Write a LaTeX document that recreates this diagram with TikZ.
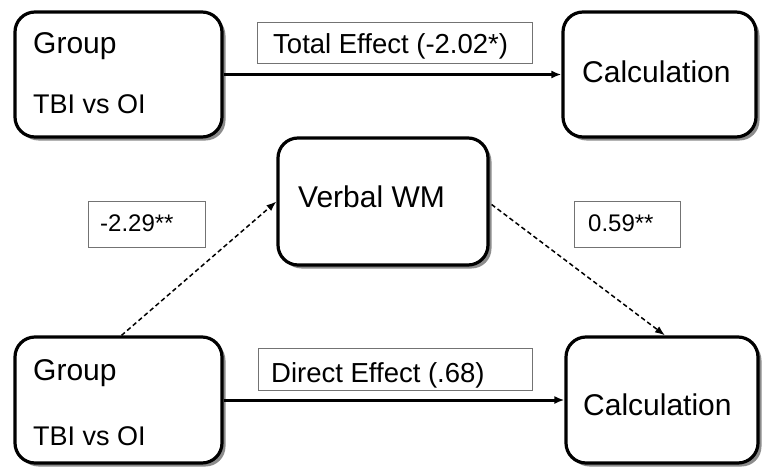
\documentclass[tikz,border=0pt]{standalone}
\usepackage{fontspec}
\setmainfont{Liberation Sans}
\usetikzlibrary{shadows,arrows.meta,calc}
\begin{document}
\begin{tikzpicture}[x=1pt,y=-1pt,
  var/.style={draw, line width=3.2pt, rounded corners=20pt, fill=white,
    drop shadow={shadow xshift=3.5pt, shadow yshift=-3.5pt, opacity=0.6, fill=black!75}},
  coef/.style={draw=black!55, line width=1pt, fill=white, inner sep=0pt},
  big/.style={anchor=base west, inner sep=0pt, font=\fontsize{30}{36}\selectfont},
  small/.style={anchor=base west, inner sep=0pt, font=\fontsize{27}{32}\selectfont},
  efftxt/.style={anchor=base west, inner sep=0pt, font=\fontsize{27.5}{32}\selectfont},
  coeftxt/.style={anchor=base west, inner sep=0pt, font=\fontsize{24}{28}\selectfont},
  conn/.style={line width=3pt, -{Latex[length=10pt,width=8pt]}},
  dconn/.style={line width=1.5pt, dash pattern=on 4.5pt off 3pt, -{Latex[length=10pt,width=7.5pt]}}]
\useasboundingbox (0,0) rectangle (763,469);

% variable boxes
\node[var, minimum width=207pt, minimum height=125pt] (g1) at (118.5,74.5) {};
\node[var, minimum width=193pt, minimum height=125pt] (c1) at (659.5,74.5) {};
\node[var, minimum width=210pt, minimum height=127pt] (vwm) at (383,201.5) {};
\node[var, minimum width=207pt, minimum height=126pt] (g2) at (118.5,400) {};
\node[var, minimum width=192pt, minimum height=126pt] (c2) at (662,400) {};

% box texts
\node[big] (g1t) at (33,53) {Group};
\node[small] (g1s) at (33,113) {TBI vs OI};
\node[big] (c1t) at (582,82) {Calculation};
\node[big] (vwmt) at (298,207) {Verbal WM};
\node[big] (g2t) at (33,380) {Group};
\node[small] (g2s) at (33,445) {TBI vs OI};
\node[big] (c2t) at (583,415) {Calculation};

% connectors
\draw[conn] (g1.east) -- (c1.west);
\draw[conn] (g2.east) -- (c2.west);
\draw[dconn] ($(g2.north)+(3,0)$) -- (vwm.west);
\draw[dconn] ($(vwm.east)+(2,3)$) -- ($(c2.north)+(3,0)$);

% coefficient labels
\node[coef, minimum width=275pt, minimum height=41pt] (te) at (394.5,42.5) {};
\node[efftxt] (tet) at (273,53) {Total Effect (-2.02*)};
\node[coef, minimum width=274pt, minimum height=42pt] (de) at (395,369) {};
\node[efftxt] (det) at (271,382) {Direct Effect (.68)};
\node[coef, minimum width=117pt, minimum height=46pt] (pa) at (146.5,224) {};
\node[coeftxt] (pat) at (100,231) {-2.29**};
\node[coef, minimum width=106pt, minimum height=46pt] (pb) at (627,224) {};
\node[coeftxt] (pbt) at (588,231) {0.59**};
\end{tikzpicture}
\end{document}
